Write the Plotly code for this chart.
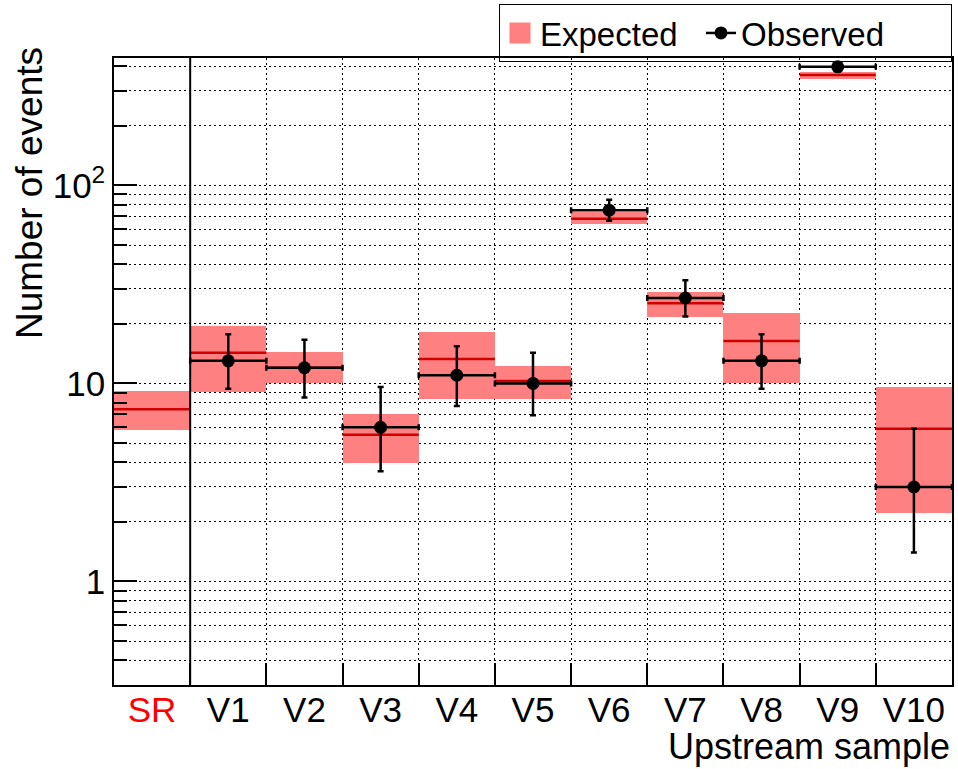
import numpy as np
import plotly.graph_objects as go

# ---- data ----
categories = ["SR", "V1", "V2", "V3", "V4", "V5", "V6", "V7", "V8", "V9", "V10"]
tick_labels = ["<span style='color:#ff0000'>SR</span>", "V1", "V2", "V3", "V4", "V5",
               "V6", "V7", "V8", "V9", "V10"]
expected = [7.4, 14.3, 12.0, 5.5, 13.3, 10.3, 67.9, 25.4, 16.4, 361, 5.9]
expected_hi = [9.2, 19.5, 14.4, 7.0, 18.2, 12.2, 73.4, 28.9, 22.6, 372, 9.6]
expected_lo = [5.8, 9.1, 10.1, 3.96, 8.3, 8.35, 63.9, 21.7, 10.1, 345, 2.22]
obs_categories = ["V1", "V2", "V3", "V4", "V5", "V6", "V7", "V8", "V9", "V10"]
observed = [13, 12, 6, 11, 10, 75, 27, 13, 397, 3]
obs_err_up = [4.7, 4.6, 3.6, 4.4, 4.3, 9.7, 6.2, 4.7, 20.5, 2.9]
obs_err_down = [3.6, 3.5, 2.4, 3.3, 3.1, 8.7, 5.2, 3.6, 19.9, 1.6]
y_major = [1, 10, 100]
y_major_text = ["1", "10", "10<sup>2</sup>"]

FONT = "Liberation Sans"
BAND = "#ff8080"
xpos = {c: i for i, c in enumerate(categories)}
xi = np.arange(len(categories))

fig = go.Figure()

# expected band
fig.add_trace(go.Bar(
    x=xi, base=expected_lo,
    y=[h - l for h, l in zip(expected_hi, expected_lo)],
    width=1.0, marker=dict(color=BAND, line=dict(width=0)),
    name="Expected", showlegend=False, hoverinfo="skip"))

# expected central lines
lx, ly = [], []
for i, v in enumerate(expected):
    lx += [i - 0.5, i + 0.5, None]
    ly += [v, v, None]
fig.add_trace(go.Scatter(x=lx, y=ly, mode="lines",
                         line=dict(color="#d00000", width=2.5),
                         showlegend=False, hoverinfo="skip"))

# observed
ox = [xpos[c] for c in obs_categories]
fig.add_trace(go.Scatter(
    x=ox, y=observed, mode="markers",
    marker=dict(color="black", size=13),
    error_x=dict(type="constant", value=0.5, color="black", thickness=2.5, width=3),
    error_y=dict(type="data", symmetric=False, array=obs_err_up,
                 arrayminus=obs_err_down, color="black", thickness=2.5, width=3),
    showlegend=False, name="Observed"))

# legend entries
fig.add_trace(go.Scatter(x=[None], y=[None], mode="markers", name="Expected",
                         marker=dict(symbol="square", color=BAND, size=16,
                                     line=dict(color=BAND, width=5)),
                         legendwidth=156))
fig.add_trace(go.Scatter(x=[None], y=[None], mode="lines+markers", name="Observed",
                         marker=dict(color="black", size=13),
                         line=dict(color="black", width=2.5),
                         legendwidth=205))

fig.add_shape(type="line", xref="x", yref="paper", x0=0.5, x1=0.5, y0=0, y1=1,
              line=dict(color="black", width=2))

minor_y = [v * m for v in [0.1, 1, 10, 100] for m in range(2, 10)]
minor_y = [v for v in minor_y if 0.3 <= v <= 440]

fig.update_xaxes(
    range=[-0.5, 10.5], tickmode="array", tickvals=list(xi), ticktext=tick_labels,
    ticks="", showgrid=False, zeroline=False,
    showline=True, mirror=True, linecolor="black", linewidth=1.5,
    tickfont=dict(family=FONT, size=35, color="black"),
    ticklabelstandoff=-7,
    minor=dict(tickmode="array", tickvals=[i + 0.5 for i in range(10)],
               ticks="inside", ticklen=22, tickwidth=1.5, tickcolor="black",
               showgrid=True, gridcolor="black", gridwidth=1, griddash="2px,3px"))

fig.update_yaxes(
    type="log", range=[np.log10(0.3), np.log10(440)],
    tickmode="array", tickvals=y_major, ticktext=y_major_text,
    ticks="inside", ticklen=23, tickwidth=1.5, tickcolor="black",
    showgrid=True, gridcolor="black", gridwidth=1, griddash="2px,3px",
    zeroline=False, showline=True, mirror=True, linecolor="black", linewidth=1.5,
    tickfont=dict(family=FONT, size=35, color="black"),
    minor=dict(tickmode="array", tickvals=minor_y, ticks="inside", ticklen=13,
               tickwidth=1.5, tickcolor="black",
               showgrid=True, gridcolor="black", gridwidth=1, griddash="2px,3px"))

fig.add_annotation(text="Number of events", textangle=-90, xref="paper", yref="paper",
                   x=-0.1, y=1.021, xanchor="center", yanchor="top", showarrow=False,
                   font=dict(family=FONT, size=37, color="black"))
fig.add_annotation(text="Upstream sample", xref="paper", yref="paper",
                   x=1.0, y=-0.0985, xanchor="right", yanchor="middle", showarrow=False,
                   font=dict(family=FONT, size=36, color="black"))

fig.update_layout(
    width=958, height=769,
    margin=dict(l=114, r=6, t=58, b=84, autoexpand=False),
    paper_bgcolor="white", plot_bgcolor="white",
    barmode="overlay", bargap=0,
    font=dict(family=FONT, color="black"),
    legend=dict(orientation="h", xref="paper", yref="paper",
                x=1.0, xanchor="right", y=1 + 54 / 627, yanchor="top",
                bgcolor="rgba(255,255,255,0)", bordercolor="black", borderwidth=1,
                font=dict(family=FONT, size=33, color="black"),
                traceorder="normal"),
)

fig.write_html("out.html")
